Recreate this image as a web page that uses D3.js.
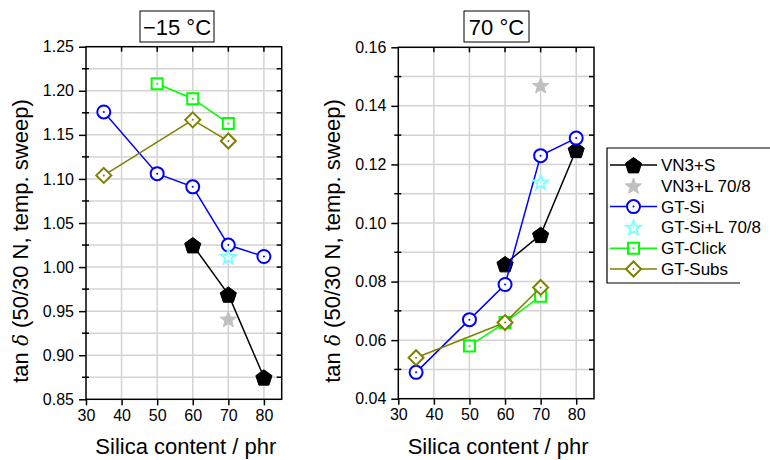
<!DOCTYPE html>
<html>
<head>
<meta charset="utf-8">
<script src="https://cdn.jsdelivr.net/npm/d3@7/dist/d3.min.js"></script>
<style>
  html, body { margin: 0; padding: 0; background: #fff; }
  svg { display: block; font-family: "Liberation Sans", Arial, sans-serif; }
</style>
</head>
<body>
<svg id="chart" width="770" height="460"></svg>
<script>
// Series names, in drawing order
const seriesNames = ["VN3+S", "VN3+L 70/8", "GT-Si", "GT-Si+L 70/8", "GT-Click", "GT-Subs"];

// tan δ at −15 °C
const coldX = {
  "VN3+S": [60, 70, 80],
  "VN3+L 70/8": [70],
  "GT-Si": [35, 50, 60, 70, 80],
  "GT-Si+L 70/8": [70],
  "GT-Click": [50, 60, 70],
  "GT-Subs": [35, 60, 70]
};
const coldY = {
  "VN3+S": [1.025, 0.969, 0.875],
  "VN3+L 70/8": [0.941],
  "GT-Si": [1.176, 1.106, 1.091, 1.025, 1.012],
  "GT-Si+L 70/8": [1.012],
  "GT-Click": [1.208, 1.191, 1.163],
  "GT-Subs": [1.104, 1.167, 1.143]
};

// tan δ at 70 °C
const hotX = {
  "VN3+S": [60, 70, 80],
  "VN3+L 70/8": [70],
  "GT-Si": [35, 50, 60, 70, 80],
  "GT-Si+L 70/8": [70],
  "GT-Click": [50, 60, 70],
  "GT-Subs": [35, 60, 70]
};
const hotY = {
  "VN3+S": [0.086, 0.096, 0.125],
  "VN3+L 70/8": [0.147],
  "GT-Si": [0.049, 0.067, 0.079, 0.123, 0.129],
  "GT-Si+L 70/8": [0.114],
  "GT-Click": [0.058, 0.066, 0.075],
  "GT-Subs": [0.054, 0.066, 0.078]
};

// Axis ticks
const xTicks = [30, 40, 50, 60, 70, 80];
const coldYTicks = [0.85, 0.90, 0.95, 1.00, 1.05, 1.10, 1.15, 1.20, 1.25];
const hotYTicks = [0.04, 0.06, 0.08, 0.10, 0.12, 0.14, 0.16];

// Visual style per series
const style = {
  "VN3+S":        { color: "#000000", shape: "pentagon", fill: "#000000", line: true,  dot: false },
  "VN3+L 70/8":   { color: "#c0c0c0", shape: "star",     fill: "#c0c0c0", line: false, dot: false },
  "GT-Si":        { color: "#0000ff", shape: "circle",   fill: "#ffffff", line: true,  dot: true },
  "GT-Si+L 70/8": { color: "#80ffff", shape: "star",     fill: "#ffffff", line: false, dot: true },
  "GT-Click":     { color: "#00ff00", shape: "square",   fill: "#ffffff", line: true,  dot: true },
  "GT-Subs":      { color: "#808000", shape: "diamond",  fill: "#ffffff", line: true,  dot: true }
};

function markerPath(shape, filled) {
  if (shape === "circle") {
    const r = 6.5;
    return `M${r},0A${r},${r} 0 1,1 ${-r},0A${r},${r} 0 1,1 ${r},0Z`;
  }
  if (shape === "square") {
    const h = 5.5;
    return `M${-h},${-h}H${h}V${h}H${-h}Z`;
  }
  if (shape === "diamond") {
    const h = 7.5;
    return `M0,${-h}L${h},0L0,${h}L${-h},0Z`;
  }
  if (shape === "pentagon") {
    const r = 8.5;
    const pts = d3.range(5).map(i => {
      const a = -Math.PI / 2 + i * 2 * Math.PI / 5;
      return [r * Math.cos(a), r * Math.sin(a) + 1];
    });
    return "M" + pts.map(p => p.join(",")).join("L") + "Z";
  }
  if (shape === "star") {
    const R = filled ? 8.5 : 7.5, r = filled ? 3.6 : 3.2;
    const pts = d3.range(10).map(i => {
      const a = -Math.PI / 2 + i * Math.PI / 5;
      const rr = i % 2 === 0 ? R : r;
      return [rr * Math.cos(a), rr * Math.sin(a) + 0.8];
    });
    return "M" + pts.map(p => p.join(",")).join("L") + "Z";
  }
}

function drawMarker(g, shape, s, x, y) {
  const filled = s.fill === s.color;
  const m = g.append("g").attr("transform", `translate(${x},${y})`);
  m.append("path").attr("d", markerPath(shape, filled))
    .attr("fill", s.fill)
    .attr("stroke", s.color)
    .attr("stroke-width", filled ? 1 : 2)
    .attr("stroke-linejoin", "miter");
  if (s.dot) {
    m.append("circle").attr("r", 1).attr("fill", s.color);
  }
}

const svg = d3.select("#chart");

function panel(opts) {
  const { left, right, top, bottom, yDomain, yTicks, yFormat, xs, ys, title, titleBox, yLabelX } = opts;
  const x = d3.scaleLinear().domain([30, 85]).range([left, right]);
  const y = d3.scaleLinear().domain(yDomain).range([bottom, top]);
  const g = svg.append("g");

  // Grid
  const yStep = (yTicks[1] - yTicks[0]) / 2;
  const yGrid = d3.range(yDomain[0], yDomain[1] + yStep / 2, yStep);
  g.append("g").selectAll("line").data(yGrid.slice(1, -1)).join("line")
    .attr("x1", left).attr("x2", right)
    .attr("y1", d => y(d)).attr("y2", d => y(d))
    .attr("stroke", "#d3d3d3").attr("stroke-width", 1.5);
  g.append("g").selectAll("line").data(xTicks.slice(1)).join("line")
    .attr("x1", d => x(d)).attr("x2", d => x(d))
    .attr("y1", top).attr("y2", bottom)
    .attr("stroke", "#d3d3d3").attr("stroke-width", 1.5);

  // Frame
  g.append("rect").attr("x", left).attr("y", top)
    .attr("width", right - left).attr("height", bottom - top)
    .attr("fill", "none").attr("stroke", "#000").attr("stroke-width", 1.5);

  // Bottom axis
  const xAxis = g.append("g").attr("transform", `translate(0,${bottom})`)
    .call(d3.axisBottom(x).tickValues(xTicks).tickSize(6).tickPadding(4).tickFormat(d3.format("d")));
  xAxis.select(".domain").remove();
  xAxis.selectAll("line").attr("stroke-width", 1.5);
  xAxis.selectAll("text").attr("font-size", 16).attr("fill", "#000")
    .attr("font-family", "Liberation Sans, Arial, sans-serif");

  // Top axis ticks (inward)
  g.append("g").selectAll("line").data(xTicks.slice(1)).join("line")
    .attr("x1", d => x(d)).attr("x2", d => x(d))
    .attr("y1", top).attr("y2", top + 5)
    .attr("stroke", "#000").attr("stroke-width", 1.5);

  // Left axis with minor ticks
  const yAxis = g.append("g").attr("transform", `translate(${left},0)`)
    .call(d3.axisLeft(y).tickValues(yTicks).tickSize(7).tickPadding(5).tickFormat(d3.format(yFormat)));
  yAxis.select(".domain").remove();
  yAxis.selectAll("line").attr("stroke-width", 1.5);
  yAxis.selectAll("text").attr("font-size", 16).attr("fill", "#000")
    .attr("font-family", "Liberation Sans, Arial, sans-serif");
  const minor = yGrid.filter((d, i) => i % 2 === 1);
  g.append("g").selectAll("line").data(minor).join("line")
    .attr("x1", left - 4).attr("x2", left + 3)
    .attr("y1", d => y(d)).attr("y2", d => y(d))
    .attr("stroke", "#000").attr("stroke-width", 1.5);
  // Right axis ticks (inward)
  g.append("g").selectAll("line").data(yGrid.slice(1, -1)).join("line")
    .attr("x1", right - 5).attr("x2", right)
    .attr("y1", d => y(d)).attr("y2", d => y(d))
    .attr("stroke", "#000").attr("stroke-width", 1.5);

  // Series
  const line = d3.line().x(d => x(d[0])).y(d => y(d[1]));
  const marks = g.append("g");
  seriesNames.forEach(name => {
    const s = style[name];
    const pts = xs[name].map((v, i) => [v, ys[name][i]]);
    if (s.line) {
      marks.append("path").datum(pts).attr("d", line)
        .attr("fill", "none").attr("stroke", s.color).attr("stroke-width", 1.5);
    }
    pts.forEach(p => drawMarker(marks, s.shape, s, x(p[0]), y(p[1])));
  });

  // Axis titles
  g.append("text").attr("x", (left + right) / 2 + 2).attr("y", 454)
    .attr("text-anchor", "middle").attr("font-size", 22).text("Silica content / phr");
  const yl = g.append("text")
    .attr("transform", `translate(${yLabelX},241) rotate(-90)`)
    .attr("text-anchor", "middle").attr("font-size", 22);
  yl.append("tspan").text("tan ");
  yl.append("tspan").attr("font-family", "DejaVu Serif, Liberation Serif, serif")
    .attr("font-style", "italic").attr("font-size", 20).text("δ");
  yl.append("tspan").text(" (50/30 N, temp. sweep)");
  // keep the rotated label within its run from the x-axis up to the panel top
  const len = yl.node().getComputedTextLength();
  if (len > 292) {
    yl.attr("textLength", 292).attr("lengthAdjust", "spacingAndGlyphs");
  }

  // Panel title in a box
  g.append("rect").attr("x", titleBox[0]).attr("y", 11)
    .attr("width", titleBox[1] - titleBox[0]).attr("height", 31)
    .attr("fill", "#fff").attr("stroke", "#000").attr("stroke-width", 1);
  g.append("text").attr("x", (titleBox[0] + titleBox[1]) / 2).attr("y", 34.5)
    .attr("text-anchor", "middle").attr("font-size", 22).text(title);
}

panel({
  left: 86, right: 281.7, top: 46.7, bottom: 399.3,
  yDomain: [0.85, 1.25], yTicks: coldYTicks, yFormat: ".2f",
  xs: coldX, ys: coldY, title: "\u221215 \u00b0C", titleBox: [140, 214], yLabelX: 28
});
panel({
  left: 398.3, right: 594, top: 47.3, bottom: 398.7,
  yDomain: [0.04, 0.16], yTicks: hotYTicks, yFormat: ".2f",
  xs: hotX, ys: hotY, title: "70 \u00b0C", titleBox: [464, 529], yLabelX: 340
});

// Legend
const leg = svg.append("g");
leg.append("path").attr("d", "M772,148H607V283H740")
  .attr("fill", "none").attr("stroke", "#000").attr("stroke-width", 1.2);
seriesNames.forEach((name, i) => {
  const s = style[name];
  const yy = 165 + i * 20.8;
  if (s.line) {
    leg.append("line").attr("x1", 610).attr("x2", 657).attr("y1", yy).attr("y2", yy)
      .attr("stroke", s.color).attr("stroke-width", 1.5);
  }
  drawMarker(leg, s.shape, s, 633.5, yy);
  leg.append("text").attr("x", 661).attr("y", yy + 6).attr("font-size", 17).text(name);
});
</script>
</body>
</html>
